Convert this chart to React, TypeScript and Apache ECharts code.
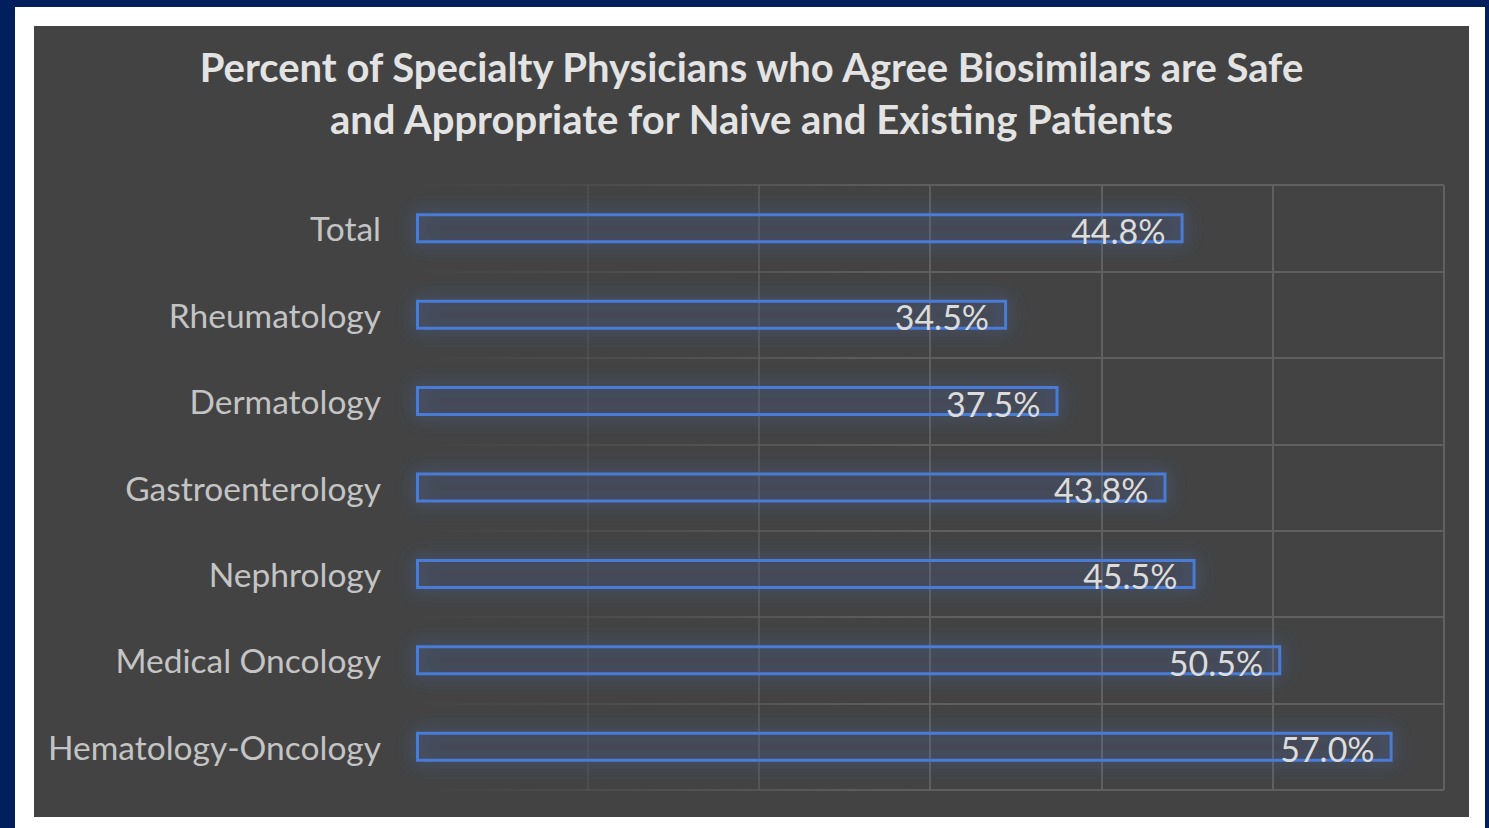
import React, { useEffect, useRef } from "react";
import * as echarts from "echarts";

const titleText =
  "Percent of Specialty Physicians who Agree Biosimilars are Safe\nand Appropriate for Naive and Existing Patients";
const categories = [
  "Total",
  "Rheumatology",
  "Dermatology",
  "Gastroenterology",
  "Nephrology",
  "Medical Oncology",
  "Hematology-Oncology",
];
const values = [44.8, 34.5, 37.5, 43.8, 45.5, 50.5, 57.0];
const axisMax = 60;
const axisInterval = 10;

const FONT = "Lato, 'Noto Sans', sans-serif";

export default function App() {
  const ref = useRef<HTMLDivElement>(null);
  useEffect(() => {
    if (!ref.current) return;
    const chart = echarts.init(ref.current, undefined, { renderer: "svg" });
    const gridColor = new echarts.graphic.LinearGradient(
      382,
      0,
      930,
      0,
      [
        { offset: 0, color: "rgba(96,96,96,0)" },
        { offset: 0.35, color: "rgba(96,96,96,0.35)" },
        { offset: 1, color: "rgba(96,96,96,1)" },
      ],
      true
    );
    chart.setOption({
      animation: false,
      backgroundColor: "#434343",
      title: {
        text: titleText,
        left: "center",
        top: 10,
        textStyle: {
          color: "#e3e3e3",
          fontFamily: FONT,
          fontWeight: "bold",
          fontSize: 40,
          lineHeight: 52,
        },
      },
      grid: { left: 382, right: 25, top: 159, bottom: 27, containLabel: false },
      xAxis: {
        type: "value",
        min: 0,
        max: axisMax,
        interval: axisInterval,
        axisLabel: { show: false },
        axisLine: { show: false },
        axisTick: { show: false },
        splitLine: { show: true, lineStyle: { color: gridColor, width: 2 } },
      },
      yAxis: {
        type: "category",
        data: categories,
        inverse: true,
        axisLine: { show: false },
        axisTick: { show: false },
        splitLine: { show: true, lineStyle: { color: gridColor, width: 2 } },
        axisLabel: {
          color: "#c4c4c4",
          fontFamily: FONT,
          fontSize: 33.5,
          margin: 35,
        },
      },
      series: [
        {
          type: "bar",
          data: values,
          barWidth: 30,
          itemStyle: {
            color: "rgba(68,114,196,0.04)",
            borderColor: "#4a7bd6",
            borderWidth: 3,
            shadowBlur: 18,
            shadowColor: "rgba(68,114,196,1)",
          },
          label: {
            show: true,
            position: "insideRight",
            distance: 18,
            formatter: (p: any) => p.value.toFixed(1) + "%",
            color: "#dcdcdc",
            fontFamily: FONT,
            fontSize: 34,
            offset: [0, 2],
          },
        },
      ],
    });
    return () => chart.dispose();
  }, []);

  return (
    <div
      style={{
        position: "fixed",
        left: 0,
        top: 0,
        width: 1489,
        height: 828,
        background: "#001f5c",
        overflow: "hidden",
      }}
    >
      <div
        style={{
          position: "absolute",
          left: 15,
          top: 7,
          width: 1470,
          height: 821,
          background: "#ffffff",
        }}
      />
      <div
        ref={ref}
        style={{
          position: "absolute",
          left: 34,
          top: 26,
          width: 1435,
          height: 791,
        }}
      />
    </div>
  );
}
